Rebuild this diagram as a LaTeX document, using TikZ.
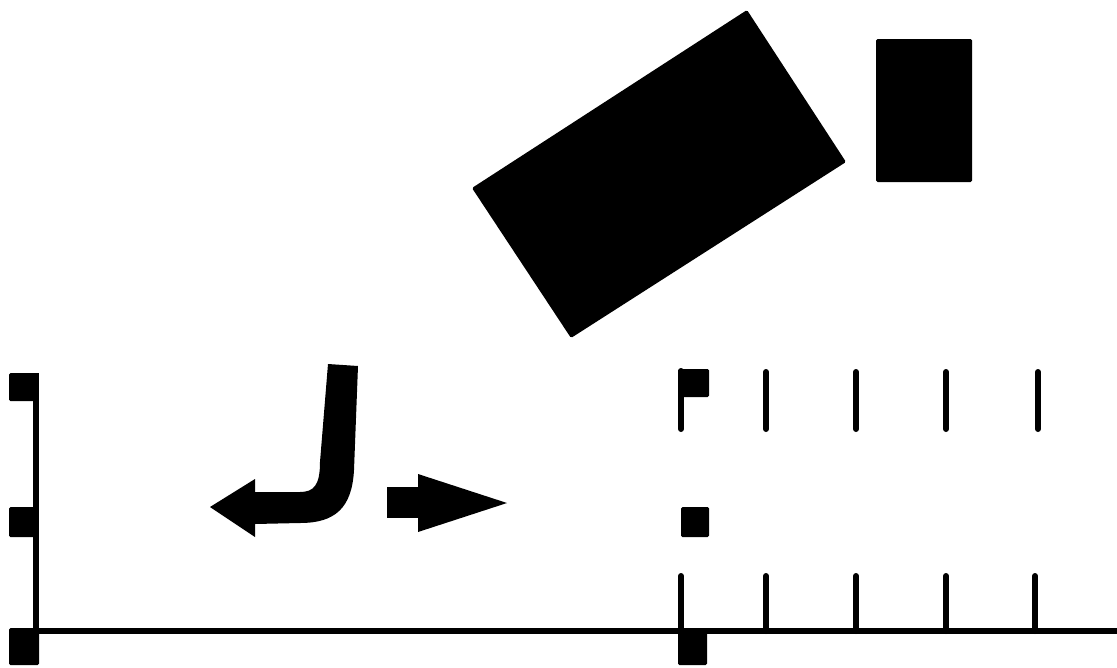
\documentclass[tikz,border=0pt]{standalone}
\begin{document}
\begin{tikzpicture}[x=1pt,y=-1pt,
  axisline/.style={line width=5.5pt},
  tickline/.style={line width=6pt,line cap=round},
  blk/.style={fill=black,rounded corners=1.5pt}]
\useasboundingbox (0,0) rectangle (1117,667);
% left axis
\draw[line width=6.5pt] (36,373) -- (36,631);
\draw[axisline] (33,631) -- (1117,631);
\fill[blk] (9,373) rectangle (38,401);
\fill[blk] (9,507) rectangle (38,537);
\fill[blk] (9,628) rectangle (39,665);
% right grid
\fill[blk] (678,369) rectangle (709,397);
\draw[tickline] (681,371) -- (681,429);
\foreach \x in {766,856,946,1038} \draw[tickline] (\x,372) -- (\x,429);
\foreach \x in {681,766,856,946,1035} \draw[tickline] (\x,576) -- (\x,631);
\fill[blk] (681,507) rectangle (709,537);
\fill[blk] (678,631) rectangle (707,665);
% blocks
\fill[blk] (747,10) -- (846,162) -- (571,338) -- (472,188) -- cycle;
\fill[blk] (876,39) rectangle (972,182);
% J arrow
\fill (328,364) -- (358,366) -- (354,470)
  .. controls (352,508) and (335,523) .. (300,523)
  -- (255,524) -- (255,537) -- (210,507) -- (255,479) -- (255,492) -- (300,492)
  .. controls (314,492) and (320,485) .. (320,462) -- cycle;
% right arrow
\fill (387,487) rectangle (420,518);
\fill (418,474) -- (507,503) -- (418,532) -- cycle;
\end{tikzpicture}
\end{document}
